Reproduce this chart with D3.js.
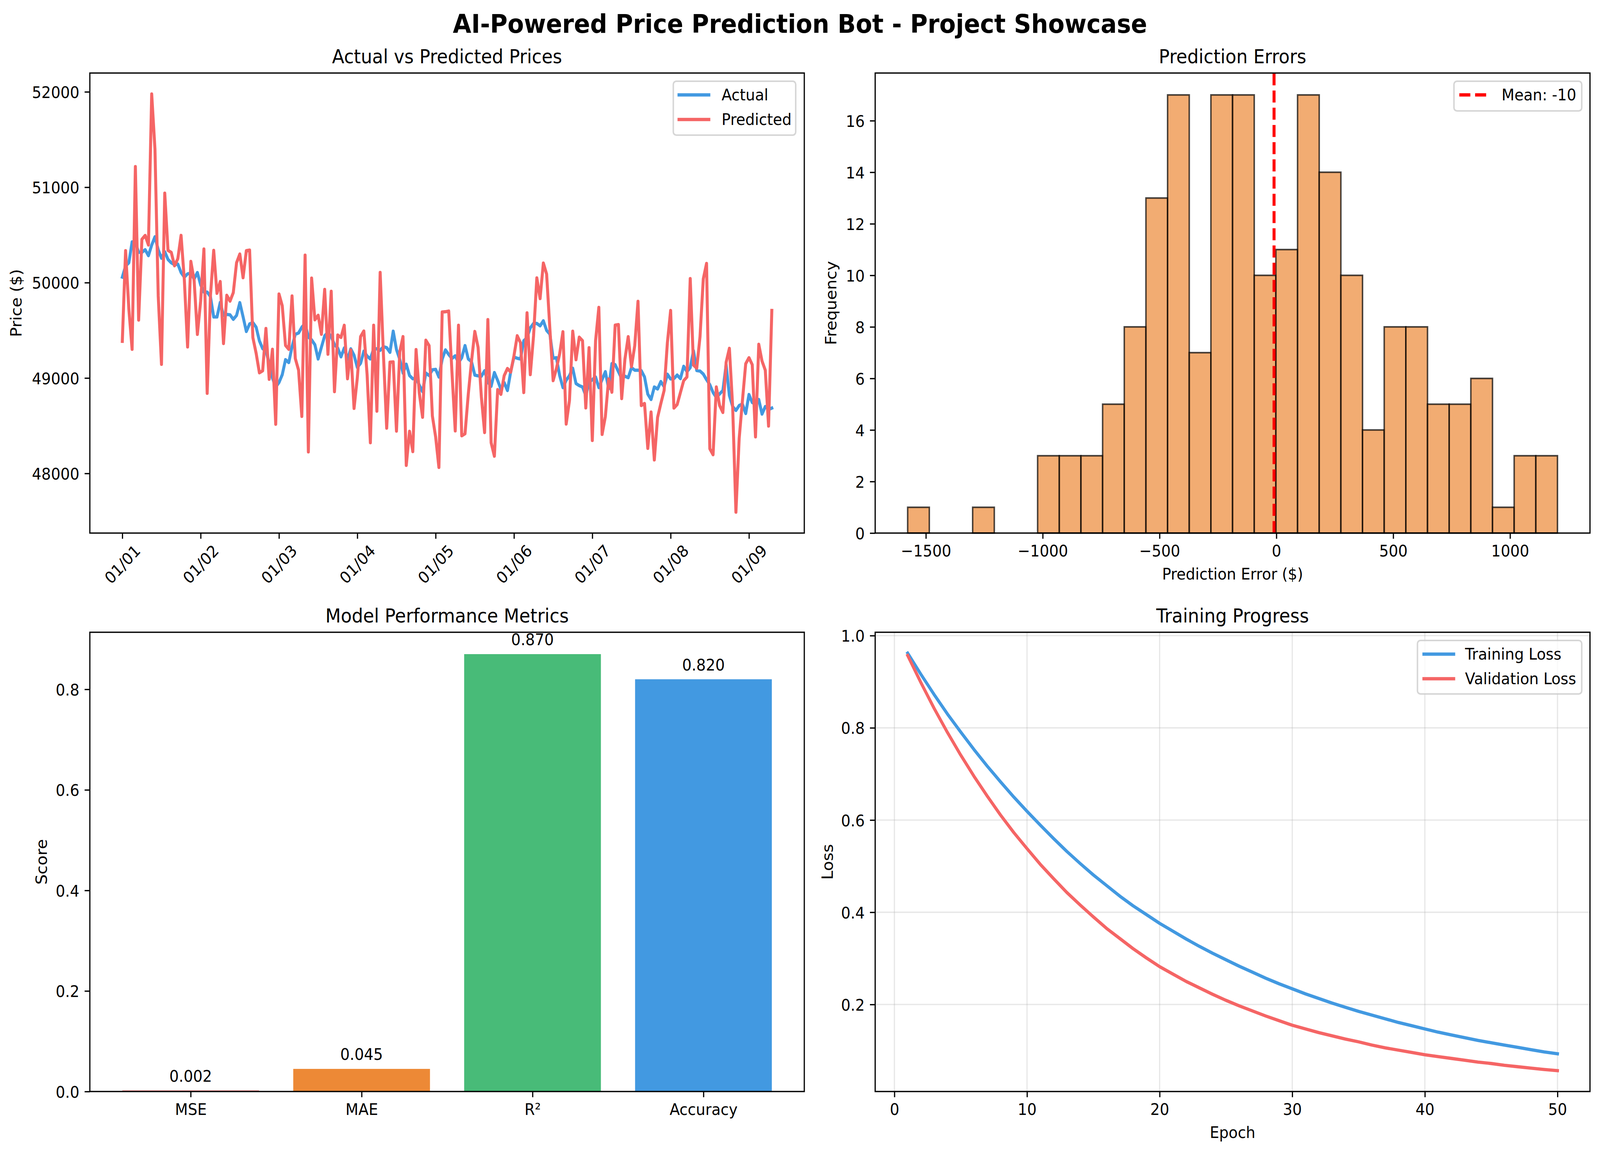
<!DOCTYPE html>
<html><head><meta charset="utf-8">
<script src="https://cdn.jsdelivr.net/npm/d3@7"></script>
<style>html,body{margin:0;padding:0;background:#fff;overflow:hidden;width:100%;height:100%}svg{display:block;width:100vw;height:100vh}text{font-family:"DejaVu Sans";fill:#000}</style>
</head><body><svg id="c" viewBox="0 0 4470 2955" preserveAspectRatio="none" xmlns="http://www.w3.org/2000/svg"></svg>
<script>
// ---------- data ----------
const actualPrices=[50058,50174,50208,50427,50420,50318,50318,50345,50283,50393,50481,50345,50256,50324,50243,50208,50188,50195,50106,50058,50092,50099,50038,50106,49976,49901,49901,49854,49640,49640,49792,49656,49667,49663,49615,49656,49790,49642,49488,49567,49581,49533,49390,49308,49287,49151,49000,48905,48953,49035,49192,49162,49328,49458,49472,49533,49570,49430,49400,49349,49200,49323,49442,49480,49434,49349,49315,49222,49315,49196,49306,49239,49111,49154,49281,49230,49200,49306,49306,49290,49329,49318,49269,49491,49298,49196,49052,49145,49026,48992,49001,48925,48857,49052,49026,49086,49091,49010,49196,49295,49247,49205,49233,49162,49213,49340,49200,49171,49030,49023,49018,49077,48958,48913,49057,48975,48882,48952,48869,49067,49220,49207,49199,49391,49422,49526,49572,49572,49547,49600,49499,49460,49207,49213,49025,48900,48977,49025,49103,48942,48921,48906,48816,48952,48983,49011,48900,48983,49067,48889,49151,49140,49067,48994,49019,49004,49109,49082,49082,49078,49011,48831,48775,48906,48885,48963,48910,49040,48990,48994,49031,48994,49123,49067,49109,49286,49078,49073,49042,48983,48931,48848,48796,48833,48869,49140,48816,48701,48660,48712,48727,48628,48827,48743,48727,48775,48622,48701,48670,48685];
const predictedPrices=[49385,50335,49724,49301,51216,49608,50454,50495,50395,51978,51400,49860,49144,50938,50338,50317,50177,50250,50495,50030,49326,50222,50024,49458,49806,50352,48840,49860,50338,49888,50011,49362,49867,49806,49895,50208,50300,50052,50335,50341,49424,49260,49055,49076,49519,48987,49301,48516,49881,49758,49342,49301,49860,49205,49083,48598,50288,48226,50047,49610,49658,49459,49929,49250,49909,48857,49451,49425,49553,48993,49295,48682,49001,49434,49493,49035,48322,49553,48653,50107,49247,48475,49166,49169,48444,49273,49434,48085,48441,48229,49298,48840,48589,49396,49340,48602,48382,48063,49692,49695,49702,49060,48446,49553,48395,48416,48831,49179,49488,49323,48806,48429,49612,48322,48181,48879,48829,49025,49100,49062,49234,49443,49370,48848,49683,49036,49443,50049,49833,50205,50090,49516,48973,49098,49255,49485,48518,48764,49491,49192,49428,49391,48687,49318,48346,49391,49740,48409,48597,48990,48852,49554,49560,48785,49199,49433,49119,49339,49804,48712,48733,48263,48643,48142,48587,48733,48869,49370,49708,48685,48722,48848,48973,49011,50042,49136,49103,49433,50038,50201,48259,48196,48906,48712,48639,49165,49311,48700,47594,48367,48764,49150,49213,49140,48384,49353,49178,49082,48497,49708];
const histStart=-1578, histEnd=1203;
const histCounts=[1,0,0,1,0,0,3,3,3,5,8,13,17,7,17,17,10,11,17,14,10,4,8,8,5,5,6,1,3,3];
const meanError=-10;
const metricNames=["MSE","MAE","R²","Accuracy"];
const metricValues=[0.002,0.045,0.87,0.82];
const trainLoss=[.962,.916,.872,.830,.791,.753,.717,.683,.650,.619,.589,.560,.532,.506,.481,.458,.435,.414,.395,.376,.359,.342,.326,.311,.297,.283,.270,.257,.245,.234,.223,.213,.203,.194,.185,.177,.169,.161,.154,.147,.140,.134,.128,.122,.117,.112,.107,.102,.097,.093];
const valLoss=[.957,.898,.842,.790,.741,.695,.652,.611,.573,.538,.504,.473,.443,.416,.390,.365,.343,.321,.301,.282,.266,.250,.236,.222,.209,.197,.186,.175,.165,.155,.147,.139,.132,.125,.119,.112,.106,.101,.096,.091,.087,.083,.079,.075,.072,.068,.065,.062,.059,.0565];
const priceTicks=[48000,49000,50000,51000,52000];
const dayTicks=[0,1,2,3,4,5,6,7,8];
const errXTicks=[-1500,-1000,-500,0,500,1000];
const errYTicks=[0,2,4,6,8,10,12,14,16];
const scoreTicks=[0,.2,.4,.6,.8];
const epochTicks=[0,10,20,30,40,50];
const lossTicks=[.2,.4,.6,.8,1];

// ---------- styles ----------
const BLUE="#4299e1",RED="#f56565",ORANGE="#ed8936",GREEN="#48bb78",CRIMSON="#e53e3e";
const barColors=[CRIMSON,ORANGE,GREEN,BLUE];
const PT=300/72, FS=10*PT, TL=3.5*PT, TP=3.5*PT, SW=.8*PT, LW=2*PT;
const svg=d3.select("#c");
svg.append("rect").attr("width",4470).attr("height",2955).attr("fill","#fff");
svg.append("text").attr("x",2235).attr("y",84).attr("text-anchor","middle")
  .attr("font-size",16*PT).attr("font-weight","bold").text("AI-Powered Price Prediction Bot - Project Showcase");

const X1=[251,2247],X2=[2445,4442],Y1=[187,1365],Y2=[1619,2795];
function panel(xr,yr,title){
  const g=svg.append("g");
  g.layers={grid:g.append("g"),marks:g.append("g"),axes:g.append("g"),over:g.append("g")};
  g.xr=xr;g.yr=yr;
  g.append("text").attr("x",(xr[0]+xr[1])/2).attr("y",yr[0]-25).attr("text-anchor","middle").attr("font-size",12*PT).text(title);
  return g;
}
function axes(p,xAxis,yAxis,xlabel,ylabel,ylabelX,xlabelY){
  const a=p.layers.axes;
  const ax=a.append("g").attr("transform",`translate(0,${p.yr[1]})`).call(xAxis.tickSize(TL).tickPadding(TP));
  const ay=a.append("g").attr("transform",`translate(${p.xr[0]},0)`).call(yAxis.tickSize(TL).tickPadding(TP));
  [ax,ay].forEach(s=>{s.select(".domain").remove();s.selectAll("line").attr("stroke","#000").attr("stroke-width",SW);
    s.selectAll("text").attr("font-size",FS).attr("font-family","DejaVu Sans").attr("fill","#000");});
  ax.selectAll("text").attr("dy",".73em");
  ay.selectAll("text").attr("dy",".365em");
  a.append("rect").attr("x",p.xr[0]).attr("y",p.yr[0]).attr("width",p.xr[1]-p.xr[0]).attr("height",p.yr[1]-p.yr[0])
    .attr("fill","none").attr("stroke","#000").attr("stroke-width",SW);
  if(xlabel)a.append("text").attr("x",(p.xr[0]+p.xr[1])/2).attr("y",xlabelY).attr("text-anchor","middle").attr("font-size",FS).text(xlabel);
  a.append("text").attr("transform",`translate(${ylabelX},${(p.yr[0]+p.yr[1])/2}) rotate(-90)`).attr("text-anchor","middle").attr("font-size",FS).text(ylabel);
  return ax;
}
function legend(p,box,items){
  const g=p.layers.over.append("g");
  g.append("rect").attr("x",box.x).attr("y",box.y).attr("width",box.w).attr("height",box.h).attr("rx",8.3)
   .attr("fill","#fff").attr("fill-opacity",.8).attr("stroke","#ccc").attr("stroke-opacity",.8).attr("stroke-width",PT);
  items.forEach((it,i)=>{
    const y=box.ly+i*63;
    const l=g.append("line").attr("x1",box.hx).attr("x2",box.hx+83.3).attr("y1",y).attr("y2",y)
      .attr("stroke",it.color).attr("stroke-width",LW);
    if(it.dash) l.attr("stroke-dasharray",it.dash); else l.attr("stroke-linecap","square");
    g.append("text").attr("x",box.tx).attr("y",y+14.5).attr("font-size",FS).text(it.label);
  });
}
function drawLine(p,vals,x,y,color){
  p.layers.marks.append("path").datum(vals)
    .attr("d",d3.line().x((d,i)=>x(i)).y(d=>y(d)))
    .attr("fill","none").attr("stroke",color).attr("stroke-width",LW)
    .attr("stroke-linejoin","round").attr("stroke-linecap","square");
}

// ---------- panel 1: prices ----------
{
  const p=panel(X1,Y1,"Actual vs Predicted Prices");
  const t0=Date.UTC(2024,0,1),H=3600e3,n=actualPrices.length-1;
  const tx=d3.scaleUtc().domain([new Date(t0-.05*n*H),new Date(t0+1.05*n*H)]).range(X1);
  const all=actualPrices.concat(predictedPrices),lo=d3.min(all),hi=d3.max(all),m=.05*(hi-lo);
  const y=d3.scaleLinear().domain([lo-m,hi+m]).range([Y1[1],Y1[0]]);
  const x=i=>tx(new Date(t0+i*H));
  drawLine(p,actualPrices,x,y,BLUE);
  drawLine(p,predictedPrices,x,y,RED);
  const fmt=d3.utcFormat("%m/%d");
  const ax=axes(p,d3.axisBottom(tx).tickValues(dayTicks.map(d=>new Date(t0+d*24*H))).tickFormat(fmt),
    d3.axisLeft(y).tickValues(priceTicks).tickFormat(d3.format("d")),null,"Price ($)",60);
  ax.selectAll("text").attr("y",0).attr("dy",0).attr("text-anchor","middle")
    .attr("transform","translate(0,80) rotate(-45)").attr("dominant-baseline","central");
  legend(p,{x:1881,y:208,w:342,h:138,ly:243,hx:1897,tx:2016},[{color:BLUE,label:"Actual"},{color:RED,label:"Predicted"}]);
}
// ---------- panel 2: histogram ----------
{
  const p=panel(X2,Y1,"Prediction Errors");
  const bw=(histEnd-histStart)/histCounts.length,m=.05*(histEnd-histStart);
  const x=d3.scaleLinear().domain([histStart-m,histEnd+m]).range(X2);
  const ymax=d3.max(histCounts)*1.05;
  const y=d3.scaleLinear().domain([0,ymax]).range([Y1[1],Y1[0]]);
  p.layers.marks.selectAll("rect").data(histCounts).join("rect")
    .attr("x",(d,i)=>x(histStart+i*bw)).attr("width",(d,i)=>x(histStart+(i+1)*bw)-x(histStart+i*bw))
    .attr("y",d=>y(d)).attr("height",d=>y(0)-y(d))
    .attr("fill",ORANGE).attr("fill-opacity",.7).attr("stroke","#000").attr("stroke-opacity",.7).attr("stroke-width",PT);
  p.layers.marks.append("line").attr("x1",x(meanError)).attr("x2",x(meanError)).attr("y1",Y1[1]).attr("y2",Y1[0])
    .attr("stroke","#f00").attr("stroke-width",LW).attr("stroke-dasharray","30.8,13.3");
  axes(p,d3.axisBottom(x).tickValues(errXTicks).tickFormat(d3.format("d")),d3.axisLeft(y).tickValues(errYTicks).tickFormat(d3.format("d")),
    "Prediction Error ($)","Frequency",2337,1484);
  legend(p,{x:4062,y:208,w:357,h:76,ly:243,hx:4077,tx:4195},[{color:"#f00",label:"Mean: "+meanError,dash:"30.8,13.3"}]);
}
// ---------- panel 3: metrics ----------
{
  const p=panel(X1,Y2,"Model Performance Metrics");
  const x=d3.scaleLinear().domain([-.59,3.59]).range(X1);
  const y=d3.scaleLinear().domain([0,d3.max(metricValues)*1.05]).range([Y2[1],Y2[0]]);
  p.layers.marks.selectAll("rect").data(metricValues).join("rect")
    .attr("x",(d,i)=>x(i-.4)).attr("width",(d,i)=>x(i+.4)-x(i-.4)).attr("y",d=>y(d)).attr("height",d=>y(0)-y(d))
    .attr("fill",(d,i)=>barColors[i]);
  axes(p,d3.axisBottom(x).tickValues(metricNames.map((d,i)=>i)).tickFormat(i=>metricNames[i]),
    d3.axisLeft(y).tickValues(scoreTicks).tickFormat(d3.format(".1f")),null,"Score",131);
  p.layers.over.selectAll("text.v").data(metricValues).join("text").attr("class","v")
    .attr("x",(d,i)=>x(i)).attr("y",d=>y(d+.01)-9.7).attr("text-anchor","middle").attr("font-size",FS).text(d=>d.toFixed(3));
}
// ---------- panel 4: loss ----------
{
  const p=panel(X2,Y2,"Training Progress");
  const n=trainLoss.length,pad=.05*(n-1);
  const x=d3.scaleLinear().domain([1-pad,n+pad]).range(X2);
  const all=trainLoss.concat(valLoss),lo=d3.min(all),hi=d3.max(all),m=.05*(hi-lo);
  const y=d3.scaleLinear().domain([lo-m,hi+m]).range([Y2[1],Y2[0]]);
  const grid=p.layers.grid.attr("stroke","#b0b0b0").attr("stroke-opacity",.3).attr("stroke-width",SW);
  epochTicks.forEach(t=>grid.append("line").attr("x1",x(t)).attr("x2",x(t)).attr("y1",Y2[0]).attr("y2",Y2[1]));
  lossTicks.forEach(t=>grid.append("line").attr("y1",y(t)).attr("y2",y(t)).attr("x1",X2[0]).attr("x2",X2[1]));
  drawLine(p,trainLoss,i=>x(i+1),y,BLUE);
  drawLine(p,valLoss,i=>x(i+1),y,RED);
  axes(p,d3.axisBottom(x).tickValues(epochTicks).tickFormat(d3.format("d")),d3.axisLeft(y).tickValues(lossTicks).tickFormat(d3.format(".1f")),
    "Epoch","Loss",2327,2914);
  legend(p,{x:3960,y:1640,w:459,h:137,ly:1675,hx:3978,tx:4093},[{color:BLUE,label:"Training Loss"},{color:RED,label:"Validation Loss"}]);
}
</script></body></html>
